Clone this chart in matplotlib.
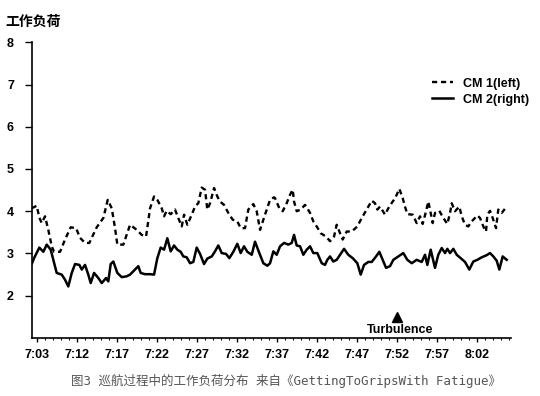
import matplotlib
matplotlib.use('Agg')
import matplotlib.pyplot as plt
from matplotlib.ticker import MultipleLocator

# Data (minutes on an even 5-min tick grid; first tick sits at minute 7)
cm1_t = [6.34, 6.96, 7.29, 7.59, 8.0, 8.41, 8.84, 9.13, 9.88, 10.5, 11.21, 11.88, 12.38, 13.0,
         13.54, 14.46, 15.29, 15.84, 16.34, 16.75, 17.04, 17.79, 18.63, 19.46, 20.09, 20.63,
         21.13, 21.63, 22.04, 22.59, 22.88, 23.21, 23.71, 24.25, 24.66, 25.09, 25.38, 25.79,
         26.34, 26.75, 27.16, 27.59, 28.0, 28.29, 28.63, 29.13, 29.54, 29.88, 30.38, 30.91,
         31.46, 32.04, 32.46, 33.0, 33.41, 34.04, 34.46, 34.88, 35.5, 36.13, 36.63, 36.75,
         37.29, 37.71, 38.21, 38.63, 38.96, 39.13, 39.46, 39.96, 40.5, 40.79, 41.13, 41.54,
         41.96, 42.46, 43.13, 43.63, 44.13, 44.46, 44.88, 45.21, 45.71, 46.34, 47.04, 47.59,
         48.21, 48.84, 49.25, 49.54, 49.88, 50.5, 50.91, 51.46, 51.75, 52.29, 52.71, 53.0,
         53.29, 53.96, 54.46, 54.88, 55.21, 55.63, 55.91, 56.21, 56.46, 56.75, 57.29, 57.79,
         58.29, 58.63, 58.84, 59.25, 59.79, 60.09, 60.5, 60.91, 61.34, 62.04, 62.38, 62.79,
         63.13, 63.29, 63.63, 63.96, 64.38, 64.66, 65.09, 65.5]
cm1_v = [4.07, 4.13, 3.85, 3.72, 3.88, 3.56, 3.17, 3.04, 3.04, 3.33, 3.62, 3.60, 3.37, 3.25,
         3.25, 3.62, 3.84, 4.27, 4.07, 3.60, 3.21, 3.21, 3.68, 3.56, 3.44, 3.40,
         4.07, 4.35, 4.27, 4.07, 3.88, 4.01, 3.93, 4.04, 3.84, 3.64, 3.92, 3.68,
         3.92, 4.11, 4.19, 4.56, 4.51, 4.04, 4.19, 4.55, 4.35, 4.23, 4.15, 3.96,
         3.80, 3.76, 3.60, 3.60, 4.04, 4.17, 4.00, 3.56, 3.92, 4.27, 4.33, 4.31,
         4.07, 4.00, 4.19, 4.39, 4.51, 4.23, 4.00, 4.04, 4.15, 4.07, 3.96, 3.76,
         3.64, 3.48, 3.40, 3.29, 3.40, 3.68, 3.48, 3.33, 3.52, 3.52, 3.64, 3.84,
         4.04, 4.25, 4.19, 4.04, 4.11, 3.92, 4.07, 4.23, 4.30, 4.53, 4.31, 4.11,
         3.93, 3.92, 3.72, 3.88, 3.70, 4.00, 4.23, 3.96, 3.72, 3.96, 4.01, 3.84,
         3.70, 3.96, 4.19, 4.00, 4.11, 3.88, 3.68, 3.64, 3.76, 3.90, 3.84, 3.64,
         3.52, 3.92, 4.01, 3.84, 3.60, 4.04, 3.96, 4.06]

cm2_t = [6.38, 6.63, 7.29, 7.79, 8.21, 8.71, 9.04, 9.46, 10.09, 10.5, 10.91, 11.34, 11.75,
         12.29, 12.59, 13.0, 13.41, 13.71, 14.13, 14.66, 15.09, 15.63, 15.91, 16.21, 16.54,
         17.04, 17.59, 18.21, 18.63, 19.25, 19.66, 19.96, 20.5, 21.13, 21.63, 22.04, 22.46,
         22.88, 23.29, 23.71, 24.13, 24.54, 24.96, 25.29, 25.71, 26.13, 26.54, 26.96, 27.38,
         27.88, 28.29, 28.84, 29.25, 29.66, 30.09, 30.63, 31.04, 31.54, 32.04, 32.46, 32.88,
         33.29, 33.84, 34.25, 34.79, 35.29, 35.79, 36.13, 36.54, 36.96, 37.38, 37.88, 38.41,
         38.84, 39.13, 39.46, 39.88, 40.29, 40.71, 41.13, 41.54, 42.04, 42.59, 43.0, 43.29,
         43.63, 44.04, 44.46, 44.88, 45.38, 45.91, 46.46, 47.04, 47.46, 47.88, 48.41, 48.84,
         49.38, 49.79, 50.21, 50.63, 51.13, 51.54, 52.16, 52.79, 53.29, 53.84, 54.46, 55.09,
         55.5, 55.79, 56.21, 56.75, 57.16, 57.59, 58.0, 58.29, 58.63, 59.04, 59.46, 59.96,
         60.5, 61.04, 61.54, 62.04, 62.59, 63.21, 63.63, 64.04, 64.46, 64.79, 65.21, 65.71]
cm2_v = [2.77, 2.89, 3.14, 3.04, 3.21, 3.09, 2.85, 2.54, 2.50, 2.38, 2.22, 2.54, 2.75,
         2.73, 2.62, 2.73, 2.50, 2.30, 2.54, 2.42, 2.30, 2.42, 2.34, 2.75, 2.81,
         2.54, 2.44, 2.46, 2.50, 2.62, 2.70, 2.54, 2.51, 2.51, 2.50, 2.89, 3.14,
         3.09, 3.36, 3.05, 3.19, 3.09, 3.04, 2.93, 2.91, 2.77, 2.80, 3.14, 2.99,
         2.75, 2.88, 2.93, 3.05, 3.19, 3.01, 2.99, 2.89, 3.04, 3.23, 3.01, 3.17,
         3.04, 2.97, 3.28, 3.01, 2.77, 2.71, 2.77, 3.05, 2.97, 3.17, 3.25, 3.21,
         3.25, 3.44, 3.19, 3.17, 2.97, 3.09, 3.17, 3.01, 3.01, 2.77, 2.73, 2.85,
         2.93, 2.81, 2.85, 2.97, 3.11, 2.97, 2.89, 2.77, 2.50, 2.73, 2.80, 2.80,
         2.93, 3.04, 2.85, 2.66, 2.70, 2.85, 2.93, 3.01, 2.85, 2.77, 2.85, 2.80,
         2.97, 2.73, 3.09, 2.66, 2.97, 3.13, 3.01, 3.11, 3.01, 3.11, 2.97, 2.89,
         2.80, 2.62, 2.81, 2.85, 2.91, 2.96, 3.01, 2.93, 2.83, 2.62, 2.93, 2.85]

tick_pos = [7, 12, 17, 22, 27, 32, 37, 42, 47, 52, 57, 62]
tick_labels = ['7:03', '7:12', '7:17', '7:22', '7:27', '7:32', '7:37', '7:42',
               '7:47', '7:52', '7:57', '8:02']
turb_t = 52
turb_v = 1.5

latin = ['Liberation Sans', 'DejaVu Sans']
cjk = ['Noto Sans CJK SC', 'DejaVu Sans']

fig = plt.figure(figsize=(5.4, 3.96), dpi=100)
ax = fig.add_axes([0.0593, 0.1465, 0.8870, 0.7468])

ax.plot(cm1_t, cm1_v, color='black', lw=1.7, linestyle=(0, (2.2, 1.6)), label='CM 1(left)')
ax.plot(cm2_t, cm2_v, color='black', lw=1.8, label='CM 2(right)')

# turbulence marker
ax.plot([turb_t], [turb_v], marker='^', color='black', markersize=7, linestyle='none')
ax.text(turb_t + 0.4, turb_v - 0.31, 'Turbulence', ha='center', va='center',
        fontsize=9, fontweight='bold', family=latin)

ax.set_xlim(6.375, 66.25)
ax.set_ylim(1, 8)
ax.spines['top'].set_visible(False)
ax.spines['right'].set_visible(False)
ax.spines['left'].set_linewidth(1.2)
ax.spines['bottom'].set_linewidth(1.2)

ax.set_yticks([2, 3, 4, 5, 6, 7, 8])
ax.set_xticks(tick_pos)
ax.set_xticklabels(tick_labels)
ax.xaxis.set_minor_locator(MultipleLocator(1))
ax.tick_params(axis='y', direction='out', length=5, width=1, pad=8)
ax.tick_params(axis='x', which='major', direction='out', length=3, width=1, pad=5)
ax.tick_params(axis='x', which='minor', direction='out', length=1.5, width=0.8)
for lab in ax.get_xticklabels() + ax.get_yticklabels():
    lab.set_fontweight('bold')
    lab.set_fontsize(9)
    lab.set_family(latin)

leg = ax.legend(loc='upper left', bbox_to_anchor=(0.791, 0.816), bbox_transform=fig.transFigure,
                frameon=False, handlelength=1.7, handletextpad=0.8, labelspacing=0.3,
                borderaxespad=0, prop={'family': latin, 'weight': 'bold', 'size': 9})

fig.text(0.01, 0.945, '工作负荷', fontsize=10, fontweight='bold', family=cjk,
         ha='left', va='center')
fig.text(0.529, 0.038, '图3 巡航过程中的工作负荷分布 来自《GettingToGripsWith Fatigue》',
         fontsize=9.0, color='#555555', family=['DejaVu Sans Mono', 'Noto Sans CJK SC'],
         ha='center', va='center')

fig.savefig('out.png', dpi=100)
